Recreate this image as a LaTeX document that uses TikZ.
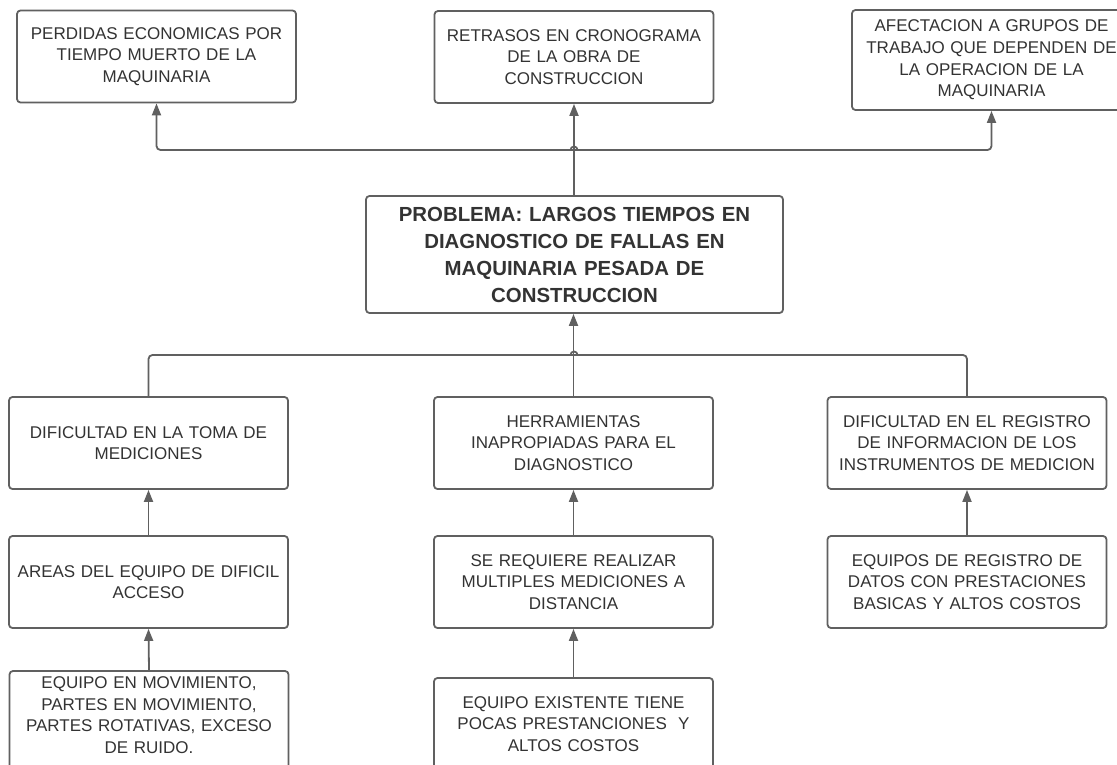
\documentclass[tikz,border=0pt]{standalone}
\usepackage{fontspec}
\setmainfont{Liberation Sans}
\usetikzlibrary{arrows.meta,calc}
\definecolor{linegray}{HTML}{606060}
\definecolor{txtgray}{HTML}{333333}
\begin{document}
\begin{tikzpicture}[x=1pt,y=-1pt,
  box/.style={draw=linegray, line width=1.8pt, rounded corners=3.5pt, fill=white,
    minimum width=279pt, minimum height=92pt, text width=270pt, align=center,
    inner sep=0pt, text=txtgray, font=\fontsize{17}{21.7}\selectfont},
  probbox/.style={box, minimum width=417pt, minimum height=117pt, text width=400pt,
    font=\fontsize{20.4}{27}\selectfont\bfseries},
  conn/.style={draw=linegray, line width=1.8pt},
  tip/.style={-{Triangle[length=12pt,width=9pt]}},
  hop/.style={draw=linegray, line width=1.8pt}
]
\clip (0,0) rectangle (1117,765);
\fill[white] (0,0) rectangle (1117,765);

% effects
\node[box] (t1) at (156.5,56.5) {PERDIDAS ECONOMICAS POR\\TIEMPO MUERTO DE LA\\MAQUINARIA};
\node[box] (t2) at (574,57) {RETRASOS EN CRONOGRAMA\\DE LA OBRA DE\\CONSTRUCCION};
\node[box, minimum height=100pt] (t3) at (991.5,60) {AFECTACION A GRUPOS DE\\TRABAJO QUE DEPENDEN DE\\LA OPERACION DE LA\\MAQUINARIA};

% central problem
\node[probbox] (prob) at (574.5,254.5) {PROBLEMA: LARGOS TIEMPOS EN\\DIAGNOSTICO DE FALLAS EN\\MAQUINARIA PESADA DE\\CONSTRUCCION};

% direct causes
\node[box] (m1) at (148.5,443) {DIFICULTAD EN LA TOMA DE\\MEDICIONES};
\node[box] (m2) at (573.5,443) {HERRAMIENTAS\\INAPROPIADAS PARA EL\\DIAGNOSTICO};
\node[box] (m3) at (967,443) {DIFICULTAD EN EL REGISTRO\\DE INFORMACION DE LOS\\INSTRUMENTOS DE MEDICION};

% second-level causes
\node[box] (r1) at (148.5,582) {AREAS DEL EQUIPO DE DIFICIL\\ACCESO};
\node[box] (r2) at (573.5,582) {SE REQUIERE REALIZAR\\MULTIPLES MEDICIONES A\\DISTANCIA};
\node[box] (r3) at (967,582) {EQUIPOS DE REGISTRO DE\\DATOS CON PRESTACIONES\\BASICAS Y ALTOS COSTOS};

% root causes (taller boxes running past the lower edge)
\node[box, minimum height=104pt] (b1) at (149,723) {EQUIPO EN MOVIMIENTO,\\PARTES EN MOVIMIENTO,\\PARTES ROTATIVAS, EXCESO\\DE RUIDO.\rule[-16pt]{0pt}{16pt}};
\node[box] (b2) at (573.5,724) {EQUIPO EXISTENTE TIENE\\POCAS PRESTANCIONES~ Y\\ALTOS COSTOS};

% junctions of the branching connectors
\coordinate (jt) at (574,150);
\coordinate (jb) at (574,355);

% problem -> effects
\draw[conn,tip] (prob.north -| t2.south) -- (t2.south);
\draw[conn,tip,rounded corners=4pt] (jt) -| (t1.south);
\draw[conn,tip,rounded corners=4pt] (jt) -| (t3.south);
\draw[hop] ($(jt)+(-3.5,0)$) arc[start angle=180,end angle=0,radius=3.5pt];

% direct causes -> problem
\draw[conn,rounded corners=4pt] (m1.north) |- (jb);
\draw[conn,rounded corners=4pt] (m3.north) |- (jb);
\draw[conn,tip] (m2.north) -- (m2.north |- prob.south);
\draw[hop] ($(jb)+(-3.5,0)$) arc[start angle=180,end angle=0,radius=3.5pt];

% causal chains inside each column
\draw[conn,tip] (r1.north) -- (m1.south);
\draw[conn,tip] (r2.north) -- (m2.south);
\draw[conn,tip] (r3.north) -- (m3.south);
\draw[conn,tip] (b1.north) -- (r1.south);
\draw[conn,tip] (b2.north) -- (r2.south);
\end{tikzpicture}
\end{document}
